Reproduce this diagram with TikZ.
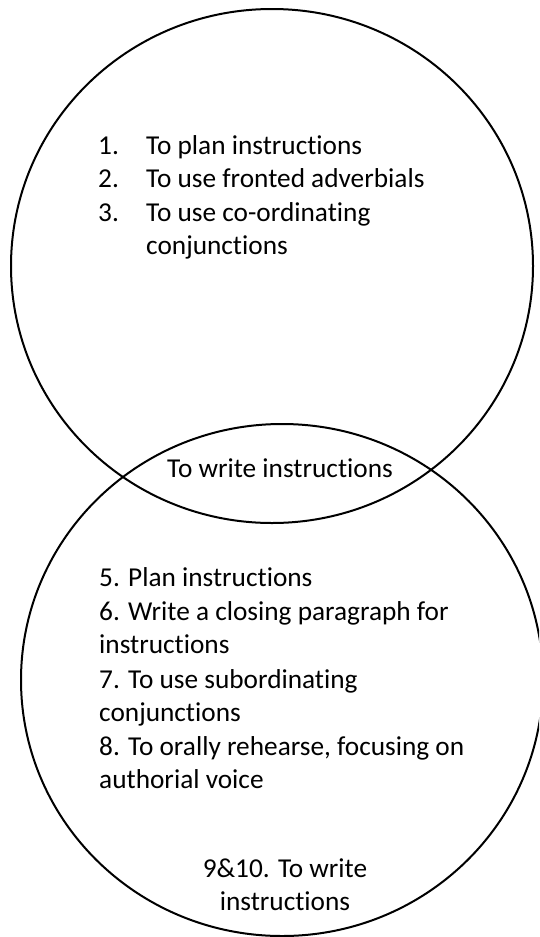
\documentclass[tikz,border=0pt]{standalone}
\usepackage{fontspec}
\setmainfont{Carlito}[Ligatures=NoCommon]
\begin{document}
\begin{tikzpicture}[x=1pt,y=-1pt,
  ring/.style={draw=black, line width=2pt},
  lbl/.style={inner sep=0pt, anchor=base west, font=\fontsize{27.3}{33.3}\selectfont},
  clbl/.style={inner sep=0pt, anchor=base, font=\fontsize{27.3}{33.3}\selectfont}]
\useasboundingbox (0,0) rectangle (539,937);

% the two overlapping sets
\begin{scope}
  \clip (0,0) rectangle (539,937);
  \draw[ring] (272,266) ellipse [x radius=261, y radius=257];
  \draw[ring] (282,680) ellipse [x radius=261, y radius=256];
\end{scope}

% upper set: numbered list with hanging indent
\node[lbl] (n1) at (98,154) {1.};
\node[lbl] (t1) at (146,154) {To plan instructions};
\node[lbl] (n2) at (98,187) {2.};
\node[lbl] (t2) at (146,187) {To use fronted adverbials};
\node[lbl] (n3) at (98,221) {3.};
\node[lbl] (t3) at (146,221) {To use co-ordinating};
\node[lbl] (t3b) at (146,254) {conjunctions};

% shared region
\node[clbl] (mid) at (280,477) {To write instructions};

% lower set
\node[lbl] (b5) at (99,586) {5. Plan instructions};
\node[lbl] (b6) at (99,620) {6. Write a closing paragraph for};
\node[lbl] (b6b) at (99,653) {instructions};
\node[lbl] (b7) at (99,688) {7. To use subordinating};
\node[lbl] (b7b) at (99,721) {conjunctions};
\node[lbl] (b8) at (99,755) {8. To orally rehearse, focusing on};
\node[lbl] (b8b) at (99,788) {authorial voice};
\node[clbl] (b9) at (285,877) {9\&10. To write};
\node[clbl] (b9b) at (285,910) {instructions};
\end{tikzpicture}
\end{document}
